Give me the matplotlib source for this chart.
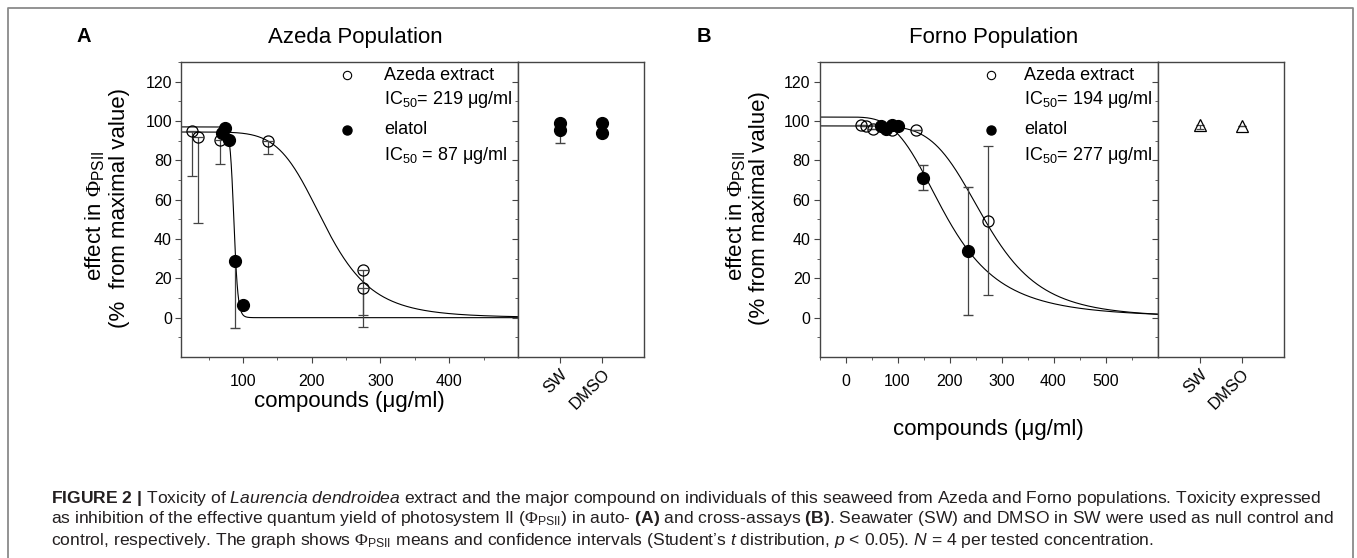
import numpy as np
import matplotlib.pyplot as plt

# ---- data ----
# panel A (Azeda population): open = Azeda extract, filled = elatol
a_ext_x = [26, 34, 66, 137, 275, 275]
a_ext_y = [95, 92, 90.5, 90, 24, 15]
a_ext_low = [72, 48, 78, 83, 1.5, -4.6]
a_ela_x = [69, 74, 80, 89, 100]
a_ela_y = [94, 96.5, 90.5, 29, 6.5]
a_ela_low = [94, 96.5, 90.5, -5.5, 6.5]
a_ctrl_upper = [99, 99]      # SW, DMSO
a_ctrl_lower = [95.5, 94]
a_ctrl_low = [89, 94]

# panel B (Forno population)
b_ext_x = [30, 39, 52, 90, 136, 274]
b_ext_y = [98, 97.5, 96, 95.5, 95.6, 49.3]
b_ext_err = [0, 0, 0, 0, 0, 37.8]
b_ela_x = [69, 78, 90, 100, 149, 236]
b_ela_y = [97.5, 96, 98, 97.5, 71.2, 33.8]
b_ela_err = [0, 0, 0, 0, 6.3, 32.5]
b_ctrl = [98, 97.3]
b_ctrl_err = [2, 0]

ctrl_labels = ["SW", "DMSO"]

# fitted dose-response curves: (top, midpoint, hill slope)
a_ext_fit = (94.4, 219, 6.3)
a_ela_fit = (97, 87, 30)
b_left_fit = (102, 195, 3.6)
b_right_fit = (97.5, 270, 5.0)

legend_a = ["Azeda extract", r"IC$_{\mathsf{50}}$= 219 μg/ml", "elatol", r"IC$_{\mathsf{50}}$ = 87 μg/ml"]
legend_b = ["Azeda extract", r"IC$_{\mathsf{50}}$= 194 μg/ml", "elatol", r"IC$_{\mathsf{50}}$= 277 μg/ml"]

plt.rcParams["font.family"] = ["Liberation Sans", "DejaVu Sans"]
plt.rcParams["mathtext.fontset"] = "custom"
plt.rcParams["mathtext.rm"] = "Liberation Serif"
plt.rcParams["mathtext.sf"] = "Liberation Sans"
plt.rcParams["mathtext.it"] = "Liberation Sans:italic"
plt.rcParams["mathtext.bf"] = "Liberation Sans:bold"
plt.rcParams["axes.linewidth"] = 1.0
plt.rcParams["axes.edgecolor"] = "#444444"

W, H = 1357, 558
fig = plt.figure(figsize=(W / 100, H / 100), dpi=100)


def rect(l, t, r, b):
    return [l / W, 1 - b / H, (r - l) / W, (b - t) / H]


def ftext(x, y, s, **kw):
    fig.text(x / W, 1 - y / H, s, **kw)


def hill(x, top, mid, h):
    x = np.clip(x, 0, None)
    return top / (1 + (x / mid) ** h)


EC = "#444444"
TICK_FS = 11.5
LABEL_FS = 16


def setup_main(ax, xlim, major, minor, labels):
    ax.set_xlim(*xlim)
    ax.set_ylim(-20, 130)
    ax.set_xticks(major)
    ax.set_xticklabels(labels)
    ax.set_xticks(minor, minor=True)
    ax.set_yticks(range(0, 121, 20))
    ax.set_yticks(range(-10, 131, 10), minor=True)
    ax.tick_params(which="both", direction="out", color=EC, labelsize=TICK_FS)
    ax.tick_params(axis="x", which="major", length=4, pad=8.5)
    ax.tick_params(axis="y", which="major", length=4, pad=2.5)
    ax.tick_params(which="minor", length=2.5)


def setup_ctrl(ax):
    ax.set_xlim(0, 3)
    ax.set_ylim(-20, 130)
    ax.set_xticks([1, 2])
    ax.set_xticklabels(ctrl_labels, rotation=45, ha="right", rotation_mode="anchor")
    ax.set_yticks(range(0, 121, 20))
    ax.set_yticks(range(-10, 131, 10), minor=True)
    ax.tick_params(axis="y", which="both", direction="out", labelleft=False, color=EC)
    ax.tick_params(axis="y", which="major", length=4)
    ax.tick_params(axis="y", which="minor", length=2.5)
    ax.tick_params(axis="x", length=4, pad=3, labelsize=TICK_FS + 0.5, color=EC)


def legend(x_m, x_t, texts):
    ys = [75, 100, 130, 155]
    fig.lines.append(plt.Line2D([x_m / W], [1 - ys[0] / H], marker="o", ms=6, mfc="none",
                                mec="black", mew=0.8, transform=fig.transFigure))
    fig.lines.append(plt.Line2D([x_m / W], [1 - ys[2] / H], marker="o", ms=6.5, mfc="black",
                                mec="black", transform=fig.transFigure))
    for y, s in zip(ys, texts):
        ftext(x_t, y, s, fontsize=13, va="center", ha="left")


# ---------------- panel A ----------------
ax = fig.add_axes(rect(181, 62, 518, 357))
setup_main(ax, (10, 500), [100, 200, 300, 400], [50, 150, 250, 350, 450],
           ["100", "200", "300", "400"])
xa = np.linspace(10, 500, 800)
ax.plot(xa, hill(xa, *a_ext_fit), color="black", lw=0.8)
ax.plot(xa, hill(xa, *a_ela_fit), color="black", lw=0.8)
ax.errorbar(a_ext_x, a_ext_y, yerr=[np.subtract(a_ext_y, a_ext_low), np.zeros(len(a_ext_y))],
            fmt="o", ms=8, mfc="none", mec="black", mew=0.9, ecolor=EC, elinewidth=0.9, capsize=3.5)
ax.errorbar(a_ela_x, a_ela_y, yerr=[np.subtract(a_ela_y, a_ela_low), np.zeros(len(a_ela_y))],
            fmt="o", ms=8.5, color="black", ecolor=EC, elinewidth=0.9, capsize=3.5)

axc = fig.add_axes(rect(518, 62, 644, 357))
setup_ctrl(axc)
axc.errorbar([1, 2], a_ctrl_lower, yerr=[np.subtract(a_ctrl_lower, a_ctrl_low), [0, 0]],
             fmt="o", ms=8.5, color="black", ecolor=EC, elinewidth=0.9, capsize=3.5)
axc.plot([1, 2], a_ctrl_upper, "o", ms=8.5, color="black")

legend(347, 384, legend_a)
ftext(84, 37, "A", fontsize=14.5, weight="bold", ha="center", va="center")
ftext(355, 38, "Azeda Population", fontsize=16, ha="center", va="center")
ftext(349, 401, "compounds (μg/ml)", fontsize=LABEL_FS, ha="center", va="center")
ftext(95, 216, r"effect in $\Phi_{\mathsf{PSII}}$", fontsize=LABEL_FS, rotation=90, ha="center", va="center")
ftext(119, 208, "(%  from maximal value)", fontsize=LABEL_FS, rotation=90, ha="center", va="center")

# ---------------- panel B ----------------
bx = fig.add_axes(rect(819.5, 62, 1157.5, 357))
setup_main(bx, (-50, 600), [0, 100, 200, 300, 400, 500], [-50, 50, 150, 250, 350, 450, 550],
           ["0", "100", "200", "300", "400", "500"])
xb = np.linspace(-50, 600, 800)
bx.plot(xb, hill(xb, *b_left_fit), color="black", lw=0.8)
bx.plot(xb, hill(xb, *b_right_fit), color="black", lw=0.8)
bx.errorbar(b_ext_x, b_ext_y, yerr=b_ext_err, fmt="o", ms=8, mfc="none", mec="black", mew=0.9,
            ecolor=EC, elinewidth=0.9, capsize=3.5)
bx.errorbar(b_ela_x, b_ela_y, yerr=b_ela_err, fmt="o", ms=8.5, color="black",
            ecolor=EC, elinewidth=0.9, capsize=3.5)

bxc = fig.add_axes(rect(1157.5, 62, 1283.6, 357))
setup_ctrl(bxc)
bxc.errorbar([1, 2], b_ctrl, yerr=[b_ctrl_err, [0, 0]], fmt="^", ms=9, mfc="none", mec="black",
             mew=0.9, ecolor=EC, elinewidth=0.9, capsize=3)

legend(991, 1024, legend_b)
ftext(704, 37, "B", fontsize=14.5, weight="bold", ha="center", va="center")
ftext(994, 37, "Forno Population", fontsize=16, ha="center", va="center")
ftext(988, 430, "compounds (μg/ml)", fontsize=LABEL_FS, ha="center", va="center")
ftext(736, 216, r"effect in $\Phi_{\mathsf{PSII}}$", fontsize=LABEL_FS, rotation=90, ha="center", va="center")
ftext(760, 208, "(% from maximal value)", fontsize=LABEL_FS, rotation=90, ha="center", va="center")

# ---------------- frame and caption ----------------
frame = "#8a8a8a"
fig.lines.append(plt.Line2D([8 / W, 8 / W, 1353 / W, 1353 / W], [0, 1 - 8 / H, 1 - 8 / H, 0],
                            color=frame, lw=1.3, transform=fig.transFigure))

cap_kw = dict(fontsize=12.6, color="#231f20", ha="left", va="center")
line1 = (r"$\mathbf{FIGURE\ 2\ |}$ Toxicity of $\mathit{Laurencia\ dendroidea}$ extract and the major compound "
         "on individuals of this seaweed from Azeda and Forno populations. Toxicity expressed")
line2 = (r"as inhibition of the effective quantum yield of photosystem II ($\Phi_{\mathsf{PSII}}$) in auto- "
         r"$\mathbf{(A)}$ and cross-assays $\mathbf{(B)}$. Seawater (SW) and DMSO in SW were used as null control and")
line3 = (r"control, respectively. The graph shows $\Phi_{\mathsf{PSII}}$ means and confidence intervals "
         r"(Student’s $\mathit{t}$ distribution, $\mathit{p}$ < 0.05). $\mathit{N}$ = 4 per tested concentration.")
ftext(51, 498, line1, **cap_kw)
ftext(51, 519, line2, **cap_kw)
ftext(51, 540, line3, **cap_kw)

fig.savefig("out.png", dpi=100)
